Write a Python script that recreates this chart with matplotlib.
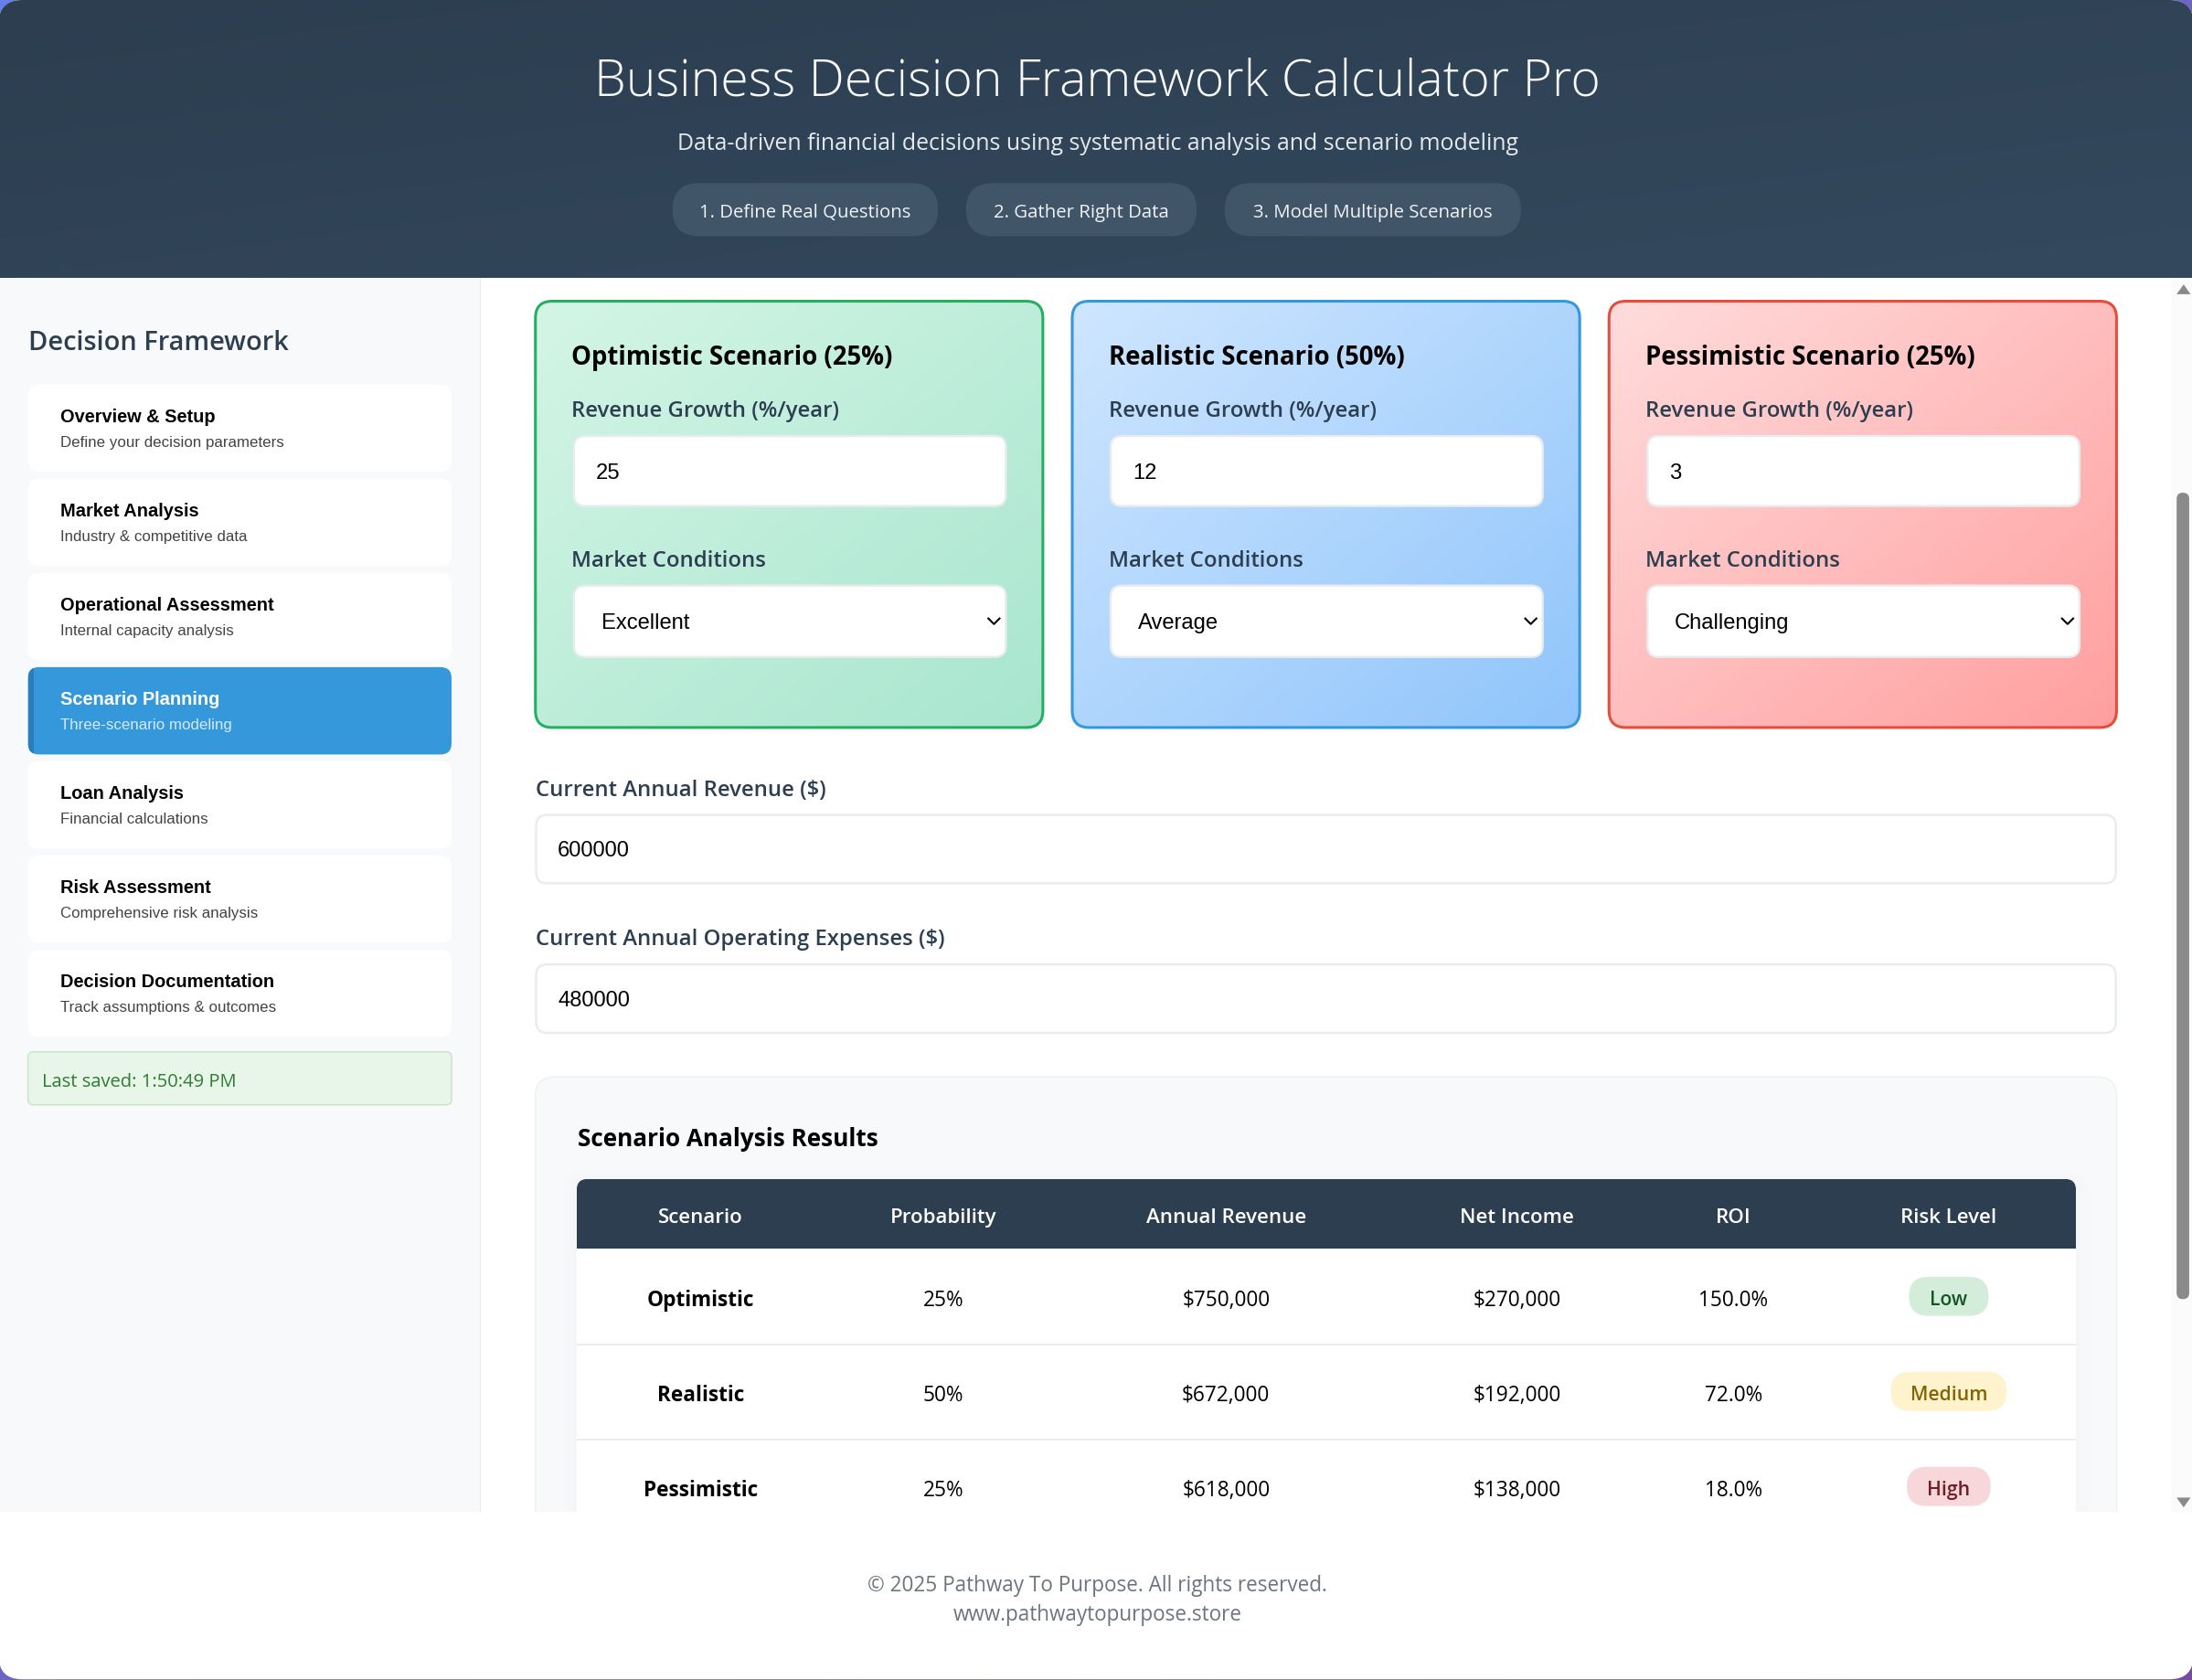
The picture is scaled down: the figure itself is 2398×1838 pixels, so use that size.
import numpy as np
import matplotlib
matplotlib.use('agg')
import matplotlib.pyplot as plt
from matplotlib.colors import LinearSegmentedColormap
from matplotlib.patches import FancyBboxPatch, Polygon, Rectangle

# texts and values
title = 'Business Decision Framework Calculator Pro'
subtitle = 'Data-driven financial decisions using systematic analysis and scenario modeling'
steps = ['1. Define Real Questions', '2. Gather Right Data', '3. Model Multiple Scenarios']

nav_titles = ['Overview & Setup', 'Market Analysis', 'Operational Assessment', 'Scenario Planning',
              'Loan Analysis', 'Risk Assessment', 'Decision Documentation']
nav_subs = ['Define your decision parameters', 'Industry & competitive data', 'Internal capacity analysis',
            'Three-scenario modeling', 'Financial calculations', 'Comprehensive risk analysis',
            'Track assumptions & outcomes']
active_nav = 3
last_saved = 'Last saved: 1:50:49 PM'

scenarios = ['Optimistic', 'Realistic', 'Pessimistic']
probability = [25, 50, 25]
growth = [25, 12, 3]
conditions = ['Excellent', 'Average', 'Challenging']
annual_revenue = [750000, 672000, 618000]
net_income = [270000, 192000, 138000]
roi = [150.0, 72.0, 18.0]
risk = ['Low', 'Medium', 'High']

current_revenue = 600000
current_expenses = 480000
columns = ['Scenario', 'Probability', 'Annual Revenue', 'Net Income', 'ROI', 'Risk Level']
footer = ['© 2025 Pathway To Purpose. All rights reserved.', 'www.pathwaytopurpose.store']

W, H = 1568, 1202
SCALE = 2398 / 1568 * 0.72
UI = 'Open Sans'
SANS = 'Liberation Sans'
NAVY = '#2c3e50'
MID = 'semibold'

fig = plt.figure(figsize=(23.98, 18.38), dpi=100)
ax = fig.add_axes([0, 0, 1, 1])
ax.set_axis_off()


def box(x0, y0, x1, y1, r=0, fc='white', ec='none', lw=0, z=1, clip=None, alpha=None):
    p = FancyBboxPatch((x0, y0), x1 - x0, y1 - y0, boxstyle=f'round,pad=0,rounding_size={r}',
                       fc=fc, ec=ec, lw=lw * 1.1, zorder=z, alpha=alpha)
    ax.add_patch(p)
    if clip is not None:
        p.set_clip_path(clip)
    return p


def rect(x0, y0, x1, y1, fc, z=1):
    p = Rectangle((x0, y0), x1 - x0, y1 - y0, fc=fc, ec='none', zorder=z)
    ax.add_patch(p)
    return p


def grad(x0, y0, x1, y1, c0, c1, z, clip):
    # css style 135deg gradient
    gx, gy = np.meshgrid(np.linspace(0, 1, 200), np.linspace(0, 1, 200))
    cmap = LinearSegmentedColormap.from_list('g', [c0, c1])
    im = ax.imshow((gx + gy) / 2, extent=(x0, x1, y1, y0), cmap=cmap, vmin=0, vmax=1,
                   zorder=z, aspect='auto', interpolation='bilinear')
    im.set_clip_path(clip)
    return im


def t(x, y, s, size, color='black', ha='left', family=UI, weight='normal', z=10):
    return ax.text(x, y, s, fontsize=size * SCALE, color=color, ha=ha, va='center_baseline',
                   family=family, weight=weight, zorder=z)


# page background and rounded container
grad(-1, -1, W + 1, H + 1, '#667eea', '#764ba2', 0, Rectangle((-1, -1), W + 2, H + 2, transform=ax.transData))
shell = box(-1, -0.5, W + 1, H - 1, r=17, fc='white', z=1)

# sidebar
rect(-1, 198, 343, 1081, '#f8f9fa', 1.5)
rect(343, 198, 344, 1081, '#e9ecef', 1.5)

# scrollbar track
rect(1553, 198, W + 1, 1081, '#fbfbfb', 1.5)

# header
grad(-1, -1, W + 1, 198, '#2c3e50', '#34495e', 2, shell)
t(785, 54, title, 36.2, color='#f6f8f9', ha='center', family='Open Sans', weight='light')
t(785, 100.3, subtitle, 16.3, color='#e4e8ec', ha='center')
step_x = [(481, 671), (691, 856), (876, 1088)]
for (x0, x1), s in zip(step_x, steps):
    box(x0, 130.5, x1, 168.5, r=19, fc='#415569', z=3)
    t((x0 + x1) / 2, 150.5, s, 13.3, color='#f0f2f4', ha='center')

# sidebar content
t(20, 242.5, 'Decision Framework', 19, color=NAVY, weight=MID)
for i, (a, b) in enumerate(zip(nav_titles, nav_subs)):
    top = 274.6 + i * 67.4
    on = i == active_nav
    card = box(20, top, 323, top + 62.5, r=8, fc='#3498db' if on else 'white', z=3)
    if on:
        bar = rect(20, top, 24, top + 62.5, '#2980b9', 4)
        bar.set_clip_path(card)
    t(43, top + 22, a, 13.1, color='white' if on else 'black', family=SANS, weight='bold')
    t(43, top + 40.5, b, 11.05, color='#d6eaf8' if on else '#444444', family=SANS)
box(20, 752, 323, 790, r=4, fc='#e8f5e9', ec='#c8e6c9', lw=1, z=3)
t(30, 772, last_saved, 13.2, color='#2e7d32')

# scenario cards
card_x = [383, 767, 1151]
card_colors = [('#d4f5e6', '#a8e6cf', '#27ae60'), ('#cfe6ff', '#90c5fb', '#3498db'), ('#ffdcdc', '#ff9f9f', '#e74c3c')]
for x, name, prob, g, cond, (c0, c1, edge) in zip(card_x, scenarios, probability, growth, conditions, card_colors):
    card = box(x, 215, x + 363, 520, r=12, fc='none', z=3)
    grad(x, 215, x + 363, 520, c0, c1, 3, card)
    box(x, 215, x + 363, 520, r=12, fc='none', ec=edge, lw=2, z=4)
    t(x + 26, 253.5, f'{name} Scenario ({prob}%)', 18, weight='bold')
    t(x + 26, 292, 'Revenue Growth (%/year)', 15.6, color=NAVY, weight=MID)
    box(x + 27.5, 311.5, x + 336.5, 361.5, r=8, fc='white', ec='#e9ecef', lw=1.6, z=5)
    t(x + 43, 336.5, str(g), 15.5, family=SANS)
    t(x + 26, 399, 'Market Conditions', 15.6, color=NAVY, weight=MID)
    box(x + 27.5, 418.5, x + 336.5, 469.5, r=8, fc='white', ec='#e9ecef', lw=1.6, z=5)
    t(x + 47, 444, cond, 15.5, family=SANS)
    ax.plot([x + 324, x + 328, x + 332], [442, 446, 442], color='black', lw=1.5, zorder=6)

# single input fields
fields = [('Current Annual Revenue ($)', current_revenue, 563, 582, 632),
          ('Current Annual Operating Expenses ($)', current_expenses, 670, 689, 739)]
for label, value, ly, y0, y1 in fields:
    t(383, ly, label, 15.6, color=NAVY, weight=MID)
    box(383.5, y0 + 0.5, 1513.5, y1 - 0.5, r=8, fc='white', ec='#e9ecef', lw=1.6, z=3)
    t(399, (y0 + y1) / 2, str(value), 15.5, family=SANS)

# results panel, cut off at the bottom of the scroll area
view = Rectangle((344, 198), 1209, 883, transform=ax.transData)
box(383, 770, 1514, 1200, r=14, fc='#f8f9fa', ec='#eef0f2', lw=1, z=2, clip=view)
t(413, 813, 'Scenario Analysis Results', 17.1, weight='bold')
for grow in (10, 7, 4, 2):
    box(412.5 - grow, 843 - grow + 3, 1485 + grow, 1200, r=8 + grow, fc='black', alpha=0.004, z=2.5, clip=view)
table = box(412.5, 843, 1485, 1200, r=8, fc='white', z=3, clip=view)
head = rect(412.5, 843, 1485, 893, NAVY, 4)
head.set_clip_path(table)
col_x = [501, 675, 877, 1085, 1240, 1394]
for x, c in zip(col_x, columns):
    t(x, 869, c, 14.6, color='white', ha='center', weight=MID)

row_y = [928, 996, 1064]
pill_w = [57, 83, 60]
pill_colors = [('#d4edda', '#155724'), ('#fff3cd', '#856404'), ('#f8d7da', '#721c24')]
for sep in (961, 1029):
    rect(412.5, sep, 1485, sep + 1, '#e9ecef', 4)
for i, y in enumerate(row_y):
    t(col_x[0], y, scenarios[i], 14.8, ha='center', weight='bold')
    t(col_x[1], y, f'{probability[i]}%', 14.8, ha='center')
    t(col_x[2], y, f'${annual_revenue[i]:,}', 14.8, ha='center')
    t(col_x[3], y, f'${net_income[i]:,}', 14.8, ha='center')
    t(col_x[4], y, f'{roi[i]:.1f}%', 14.8, ha='center')
    box(col_x[5] - pill_w[i] / 2, y - 15, col_x[5] + pill_w[i] / 2, y + 13, r=14, fc=pill_colors[i][0], z=5, clip=view)
    t(col_x[5], y, risk[i], 13.8, color=pill_colors[i][1], ha='center', weight=MID)

# scrollbar
box(1557, 352, 1566, 929, r=4.5, fc='#8a8a8a', z=3)
ax.add_patch(Polygon([[1557, 210], [1562, 203], [1567, 210]], fc='#8a8a8a', ec='none', zorder=3))
ax.add_patch(Polygon([[1557, 1071], [1562, 1078], [1567, 1071]], fc='#8a8a8a', ec='none', zorder=3))

# footer
t(785, 1132, footer[0], 14.75, color='#6c757d', ha='center')
t(785, 1153, footer[1], 14.75, color='#6c757d', ha='center')

ax.set_xlim(0, W)
ax.set_ylim(H - 0.5, -0.5)
fig.savefig('out.png', dpi=100)
